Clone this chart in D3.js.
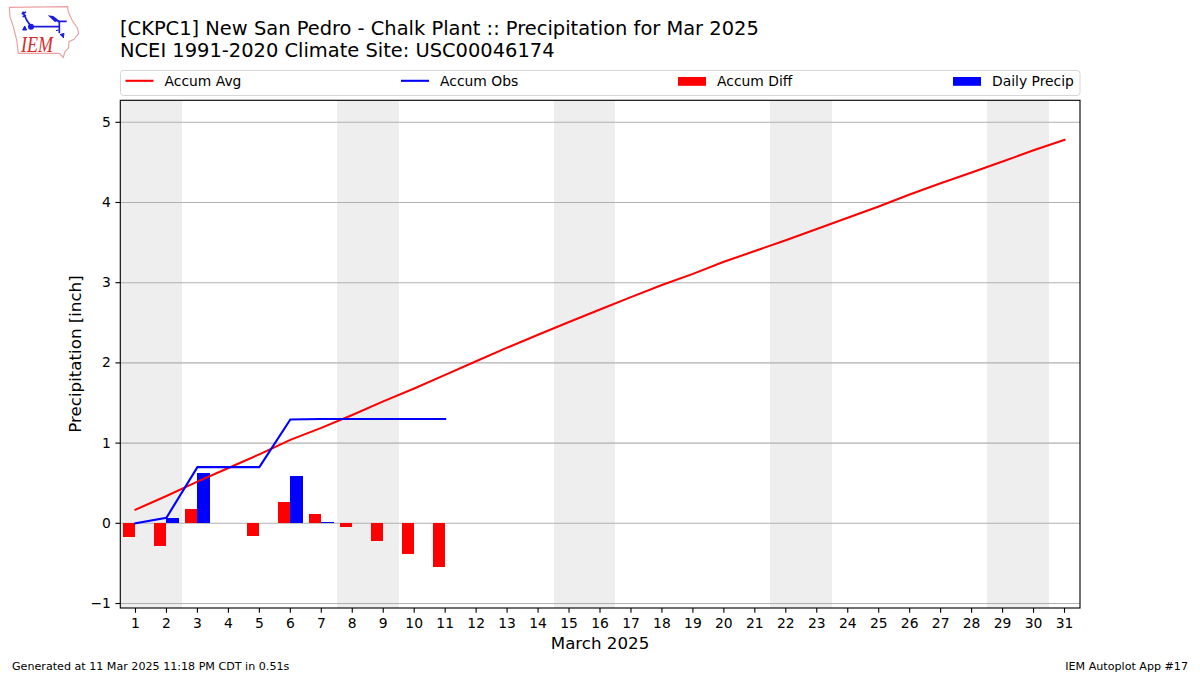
<!DOCTYPE html>
<html><head><meta charset="utf-8">
<script src="https://cdn.jsdelivr.net/npm/d3@7"></script>
<style>html,body{margin:0;padding:0;background:#fff}svg{display:block}text{font-family:"DejaVu Sans",sans-serif}</style>
</head><body><svg id="c" width="1200" height="675"></svg>
<script>
const days=d3.range(1,32);
const accumAvg=[0.17,0.34,0.52,0.69,0.86,1.04,1.19,1.35,1.52,1.68,1.85,2.02,2.19,2.35,2.51,2.665,2.82,2.97,3.11,3.26,3.395,3.53,3.67,3.81,3.95,4.10,4.24,4.375,4.51,4.65,4.78];
const accumObs=[0,0.07,0.70,0.70,0.70,1.295,1.30,1.30,1.30,1.30,1.30];
const dailyPrecip=[0,0.07,0.63,0,0,0.59,0.015,0,0,0,0];
const accumDiff=[-0.17,-0.28,0.18,0,-0.16,0.26,0.11,-0.04,-0.22,-0.38,-0.55];
const weekends=[[0.5,2.5],[7.5,9.5],[14.5,16.5],[21.5,23.5],[28.5,30.5]];
const yTicks=[-1,0,1,2,3,4,5];
const titleLines=["[CKPC1] New San Pedro - Chalk Plant :: Precipitation for Mar 2025","NCEI 1991-2020 Climate Site: USC00046174"];
const legendItems=[["Accum Avg","line","#f00",125.5],["Accum Obs","line","#00f",401],["Accum Diff","rect","#f00",678],["Daily Precip","rect","#00f",953]];

const svg=d3.select("#c");
const L=120.3,R=1080,T=100.3,B=608;
const x=d3.scaleLinear().domain([0.5,31.5]).range([120,R]);
const y=d3.scaleLinear().domain([-1.056,5.274]).range([B,T]);
const barW=0.4;

// logo
const logo=svg.append("g").attr("transform","scale(0.3333)");
logo.append("path").attr("d","M28,22L203,20L205,36L216,60L232,84L236,100L222,118L207,125L205,145L195,155L190,172L178,160L55,160L50,120L40,80L30,50Z").attr("fill","#fff").attr("stroke","#eba0a0").attr("stroke-width",3.5);
logo.append("path").attr("d","M92,80L178,80M172,64L200,64M178,64L178,100M68,35L80,60L92,78M65,42L78,36M68,50L78,46").attr("fill","none").attr("stroke","#1a1ae0").attr("stroke-width",5);
logo.append("path").attr("d","M143,46L160,48L178,62L165,66Z").attr("fill","#1a1ae0");
logo.append("circle").attr("cx",93).attr("cy",80).attr("r",9).attr("fill","#1a1ae0");
logo.append("path").attr("d","M68,90L74,78L80,90ZM168,92L176,90M180,104L192,100L190,114").attr("fill","#1a1ae0").attr("stroke","#1a1ae0").attr("stroke-width",3);
logo.append("text").attr("transform","translate(63,156) scale(1,1.25)").attr("fill","#d62b2b").attr("font-size",54).attr("font-style","italic").style("font-family","'Liberation Serif',serif").text("IEM");

// titles
svg.selectAll(".ttl").data(titleLines).join("text").attr("class","ttl").attr("x",120).attr("y",(d,i)=>34.6+i*22).attr("font-size",19.44).attr("fill","#000").text(d=>d);

// legend
svg.append("rect").attr("x",120.5).attr("y",70.5).attr("width",959.5).attr("height",25).attr("rx",3).attr("fill","#fff").attr("stroke","#d6d6d6").attr("stroke-width",1);
legendItems.forEach(([t,k,c,lx])=>{
 if(k==="line") svg.append("line").attr("x1",lx).attr("x2",lx+28).attr("y1",80.8).attr("y2",80.8).attr("stroke",c).attr("stroke-width",2.08);
 else svg.append("rect").attr("x",lx).attr("y",77).attr("width",28).attr("height",8.8).attr("fill",c);
 svg.append("text").attr("x",lx+39).attr("y",86).attr("font-size",13.89).attr("fill","#000").text(t);
});

// plot
svg.append("defs").append("clipPath").attr("id","pc").append("rect").attr("x",L).attr("y",T).attr("width",R-L).attr("height",B-T);
const plot=svg.append("g").attr("clip-path","url(#pc)");
plot.selectAll(".wk").data(weekends).join("rect").attr("x",d=>x(d[0])).attr("width",d=>x(d[1])-x(d[0])).attr("y",T).attr("height",B-T).attr("fill","#eeeeee").attr("shape-rendering","crispEdges");
plot.selectAll(".gr").data(yTicks).join("line").attr("x1",L).attr("x2",R).attr("y1",d=>y(d)).attr("y2",d=>y(d)).attr("stroke","#b0b0b0").attr("stroke-width",1.11);
plot.selectAll(".df").data(accumDiff).join("rect").attr("fill","#f00").attr("shape-rendering","crispEdges")
 .attr("x",(d,i)=>x(days[i]-barW)).attr("width",x(1+barW)-x(1))
 .attr("y",d=>y(Math.max(d,0))).attr("height",d=>Math.abs(y(d)-y(0)));
plot.selectAll(".dp").data(dailyPrecip).join("rect").attr("fill","#00f").attr("shape-rendering","crispEdges")
 .attr("x",(d,i)=>x(days[i])).attr("width",x(1+barW)-x(1))
 .attr("y",d=>y(d)).attr("height",d=>y(0)-y(d));
const ln=d3.line().x((d,i)=>x(days[i])).y(d=>y(d));
plot.append("path").attr("d",ln(accumAvg)).attr("fill","none").attr("stroke","#f00").attr("stroke-width",2.08).attr("stroke-linecap","square");
plot.append("path").attr("d",ln(accumObs)).attr("fill","none").attr("stroke","#00f").attr("stroke-width",2.08).attr("stroke-linecap","square");

// axes
const ax=svg.append("g").attr("transform",`translate(0,${B})`).call(d3.axisBottom(x).offset(0).tickValues(days).tickFormat(d3.format("d")).tickSize(4.86).tickPadding(5.2));
const ay=svg.append("g").attr("transform",`translate(${L},0)`).call(d3.axisLeft(y).offset(0).tickValues(yTicks).tickFormat(d=>d<0?"\u2212"+(-d):d).tickSize(4.86).tickPadding(4.5));
[ax,ay].forEach(a=>{a.select(".domain").remove();a.selectAll("line").attr("stroke","#000").attr("stroke-width",1.11);a.selectAll("text").attr("font-size",13.89).attr("fill","#000").style("font-family",'"DejaVu Sans"');});
svg.append("rect").attr("x",L).attr("y",T).attr("width",R-L).attr("height",B-T).attr("fill","none").attr("stroke","#000").attr("stroke-width",1.11);

// labels
svg.append("text").attr("x",600).attr("y",649).attr("text-anchor","middle").attr("font-size",16.67).attr("fill","#000").text("March 2025");
svg.append("text").attr("transform",`translate(80.5,354) rotate(-90)`).attr("text-anchor","middle").attr("font-size",16.67).attr("fill","#000").text("Precipitation [inch]");
svg.append("text").attr("x",12).attr("y",670).attr("font-size",11.11).attr("fill","#000").text("Generated at 11 Mar 2025 11:18 PM CDT in 0.51s");
svg.append("text").attr("x",1188).attr("y",670).attr("text-anchor","end").attr("font-size",11.11).attr("fill","#000").text("IEM Autoplot App #17");
</script></body></html>
